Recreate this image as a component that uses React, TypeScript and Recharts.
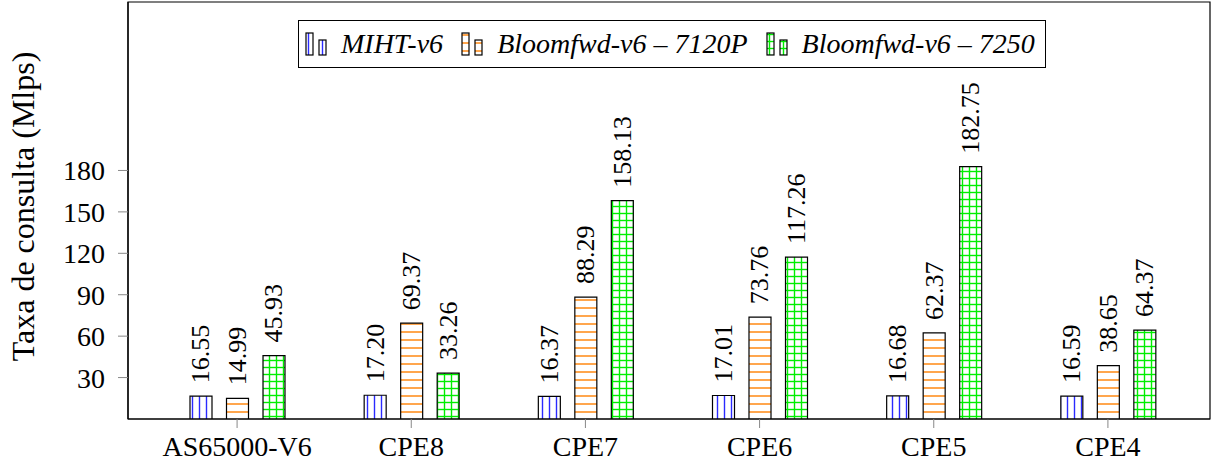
import { BarChart, Bar, XAxis, YAxis, Legend, LabelList, ReferenceArea } from "recharts";

const categories = ["AS65000-V6", "CPE8", "CPE7", "CPE6", "CPE5", "CPE4"];
const mihtValues = [16.55, 17.2, 16.37, 17.01, 16.68, 16.59];
const bloom7120Values = [14.99, 69.37, 88.29, 73.76, 62.37, 38.65];
const bloom7250Values = [45.93, 33.26, 158.13, 117.26, 182.75, 64.37];
const yTicks = [30, 60, 90, 120, 150, 180];

const seriesNames = ["MIHT-v6", "Bloomfwd-v6 \u2013 7120P", "Bloomfwd-v6 \u2013 7250"];

const data = categories.map((name, i) => ({
  name,
  miht: mihtValues[i],
  b7120: bloom7120Values[i],
  b7250: bloom7250Values[i],
}));

const FONT = "Liberation Serif, Times New Roman, DejaVu Serif, serif";

const Patterns = ({ prefix }: { prefix: string }) => (
  <defs>
    <pattern id={`${prefix}-blue`} width={7} height={7} patternUnits="userSpaceOnUse">
      <rect width={7} height={7} fill="#fff" />
      <line x1={3.5} y1={0} x2={3.5} y2={7} stroke="#2a2aff" strokeWidth={1.4} />
    </pattern>
    <pattern id={`${prefix}-orange`} width={8} height={8} patternUnits="userSpaceOnUse">
      <rect width={8} height={8} fill="#fff" />
      <line x1={0} y1={4} x2={8} y2={4} stroke="#ff8000" strokeWidth={1.4} />
    </pattern>
    <pattern id={`${prefix}-green`} width={7} height={7} patternUnits="userSpaceOnUse">
      <rect width={7} height={7} fill="#fff" />
      <line x1={3.5} y1={0} x2={3.5} y2={7} stroke="#00ee00" strokeWidth={1.4} />
      <line x1={0} y1={3.5} x2={7} y2={3.5} stroke="#00ee00" strokeWidth={1.4} />
    </pattern>
  </defs>
);

const ValueLabel = (props: any) => {
  const { x, y, width, value } = props;
  const cx = x + width / 2;
  const cy = y - 13;
  return (
    <text
      x={cx}
      y={cy}
      transform={`rotate(-90, ${cx}, ${cy})`}
      textAnchor="start"
      dominantBaseline="central"
      style={{ fontFamily: FONT }}
      fontSize={26}
      fill="#000"
    >
      {Number(value).toFixed(2)}
    </text>
  );
};

const YTitle = (props: any) => {
  const { viewBox } = props;
  const cy = viewBox.y + viewBox.height / 2 - 4;
  const cx = 23;
  return (
    <text
      x={cx}
      y={cy}
      transform={`rotate(-90, ${cx}, ${cy})`}
      textAnchor="middle"
      dominantBaseline="central"
      style={{ fontFamily: FONT }}
      fontSize={32}
      fill="#000"
    >
      Taxa de consulta (Mlps)
    </text>
  );
};

const legendKeys = ["blue", "orange", "green"];

const CustomLegend = () => (
  <div
    style={{
      display: "flex",
      alignItems: "center",
      border: "1px solid #000",
      background: "#fff",
      height: 48,
      padding: "0 10px 0 6px",
      boxSizing: "border-box",
      fontFamily: FONT,
      fontStyle: "italic",
      fontSize: 28,
      whiteSpace: "nowrap",
    }}
  >
    {seriesNames.map((name, i) => (
      <div key={name} style={{ display: "flex", alignItems: "center", marginRight: i < 2 ? 18 : 0 }}>
        <svg width={30} height={26} style={{ marginRight: 6 }}>
          <Patterns prefix={`lg${i}`} />
          <rect x={1} y={2} width={7} height={22} fill={`url(#lg${i}-${legendKeys[i]})`} stroke="#000" strokeWidth={1.2} />
          <rect x={14} y={9} width={7} height={15} fill={`url(#lg${i}-${legendKeys[i]})`} stroke="#000" strokeWidth={1.2} />
        </svg>
        <span>{name}</span>
      </div>
    ))}
  </div>
);

export default function App() {
  return (
    <div style={{ width: 1220, height: 467, fontFamily: FONT }}>
      <style>{`body{margin:0} svg text{font-family:${FONT}}`}</style>
      <BarChart
        width={1220}
        height={467}
        data={data}
        margin={{ top: 2, right: 10, bottom: 0, left: 0 }}
        barSize={22}
        barGap={14.5}
      >
        <Patterns prefix="pat" />
        <XAxis
          dataKey="name"
          padding={{ left: 22, right: 15 }}
          height={48}
          tickSize={9}
          tickMargin={8}
          tickLine={{ stroke: "#888" }}
          axisLine={{ stroke: "#000", strokeWidth: 1.2 }}
          tick={{ fontSize: 28, fill: "#000" }}
          interval={0}
        />
        <XAxis xAxisId="frame" type="number" domain={[0, 1]} allowDataOverflow hide />
        <YAxis
          domain={[0, 302]}
          ticks={yTicks}
          width={128}
          tickSize={10}
          tickMargin={13}
          tickLine={{ stroke: "#888" }}
          axisLine={{ stroke: "#000", strokeWidth: 1.2 }}
          tick={{ fontSize: 28, fill: "#000" }}
          allowDataOverflow
          label={<YTitle />}
        />
        <ReferenceArea xAxisId="frame" y1={0} y2={302} fill="none" stroke="#000" strokeWidth={1.2} ifOverflow="visible" />
        <Legend
          layout="horizontal"
          verticalAlign="middle"
          align="center"
          content={<CustomLegend />}
          wrapperStyle={{ top: 20, left: 298, width: "auto" }}
        />
        <Bar dataKey="miht" name={seriesNames[0]} fill="url(#pat-blue)" stroke="#000" strokeWidth={1.2} isAnimationActive={false}>
          <LabelList dataKey="miht" content={<ValueLabel />} />
        </Bar>
        <Bar dataKey="b7120" name={seriesNames[1]} fill="url(#pat-orange)" stroke="#000" strokeWidth={1.2} isAnimationActive={false}>
          <LabelList dataKey="b7120" content={<ValueLabel />} />
        </Bar>
        <Bar dataKey="b7250" name={seriesNames[2]} fill="url(#pat-green)" stroke="#000" strokeWidth={1.2} isAnimationActive={false}>
          <LabelList dataKey="b7250" content={<ValueLabel />} />
        </Bar>
      </BarChart>
    </div>
  );
}
